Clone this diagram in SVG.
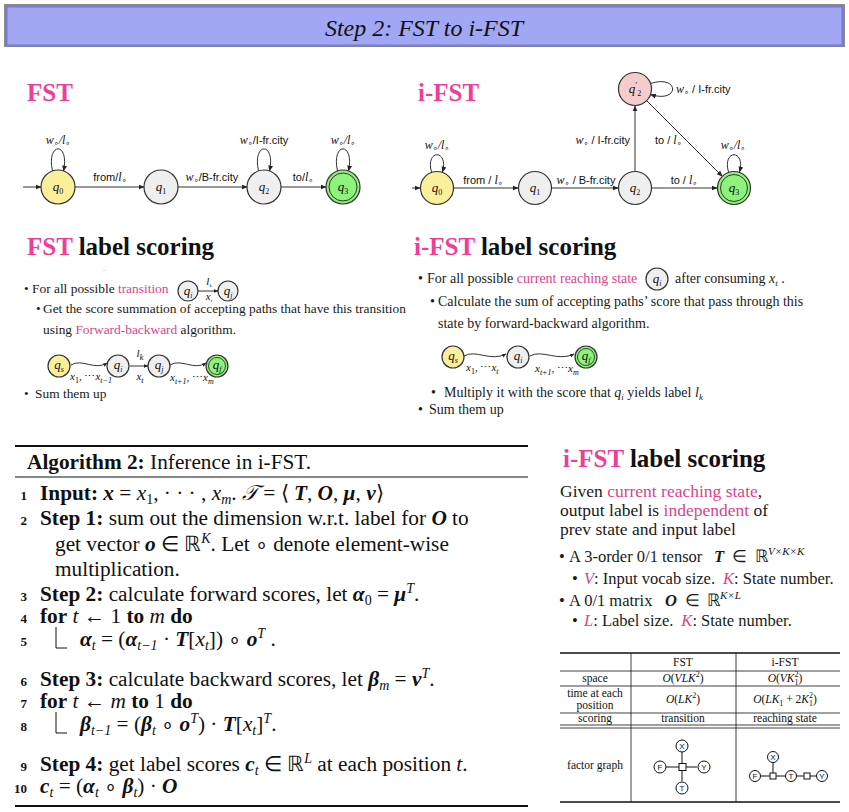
<svg xmlns="http://www.w3.org/2000/svg" width="849" height="812" viewBox="0 0 849 812">
<defs>
<marker id="ah" viewBox="0 0 10 10" refX="9" refY="5" markerWidth="6" markerHeight="6" markerUnits="userSpaceOnUse" orient="auto"><path d="M0,1 L10,5 L0,9 Z" fill="#222"/></marker>
<marker id="ahs" viewBox="0 0 10 10" refX="9" refY="5" markerWidth="4.5" markerHeight="4.5" markerUnits="userSpaceOnUse" orient="auto"><path d="M0,1 L10,5 L0,9 Z" fill="#222"/></marker>
</defs>
<style>
.lbl{font-family:"Liberation Sans",Arial,sans-serif;font-size:11px;fill:#111}
.mi{font-family:"Liberation Serif",serif;font-style:italic;font-size:12px}
.o{font-family:"DejaVu Sans",sans-serif;font-size:8px;baseline-shift:-2px}
.node{stroke:#333;stroke-width:1.2}
.yel{fill:#faf09b}
.gry{fill:#efefef}
.grn{fill:#8ef27c}
.pnk{fill:#f5cccc}
.edge{fill:none;stroke:#333;stroke-width:1;marker-end:url(#ah)}
.edges{fill:none;stroke:#333;stroke-width:1;marker-end:url(#ahs)}
.ql{font-family:"Liberation Serif",serif;font-style:italic;font-size:13px;fill:#111;text-anchor:middle}
.qs{font-size:8px;baseline-shift:-3px;font-style:normal}
.qsi{font-size:8px;baseline-shift:-3px}
.h1{font-family:"Liberation Serif",serif;font-weight:bold;font-size:25px;fill:#ec3f9a}
.h2{font-family:"Liberation Serif",serif;font-weight:bold;font-size:25px;fill:#111}
.hp{fill:#ec3f9a}
.body{font-family:"Liberation Serif",serif;font-size:13.4px;fill:#1a1a1a}
.body2{font-family:"Liberation Serif",serif;font-size:14px;fill:#1a1a1a}
.pk{fill:#d8468a}
.it{font-style:italic}
.sb{font-size:9px;baseline-shift:-3px}
.rt{font-family:"Liberation Serif",serif;font-size:16.5px;fill:#1a1a1a}
.rg{font-family:"Liberation Serif",serif;font-size:17.5px;fill:#1a1a1a}
.sup{font-size:11px;baseline-shift:7px;font-style:italic}
.alg{font-family:"Liberation Serif",serif;font-size:21.3px;fill:#111}
.b{font-weight:bold}
.bi{font-weight:bold;font-style:italic}
.s{font-size:14px;baseline-shift:-4px}
.si{font-size:14px;baseline-shift:-4px;font-style:italic}
.sp{font-size:14px;baseline-shift:8px;font-style:italic}
.num{font-family:"Liberation Serif",serif;font-weight:bold;font-size:13px;fill:#111;text-anchor:end}
.tb{font-family:"Liberation Serif",serif;font-size:11.5px;fill:#111;text-anchor:middle}
.ts{font-size:8px;baseline-shift:-3px}
.tp{font-size:8px;baseline-shift:5px}
.fc{fill:#fff;stroke:#111;stroke-width:1}
.fl{font-family:"Liberation Sans",Arial,sans-serif;font-size:8px;fill:#111;text-anchor:middle}
.cm{font-family:"Liberation Serif",serif;font-style:italic;font-size:11px;fill:#111}
</style>
<rect x="0" y="0" width="849" height="812" fill="#fff"/>
<!-- title bar -->
<rect x="4" y="4" width="841" height="43" fill="#8e8a8a"/>
<rect x="6.5" y="6.5" width="836" height="39" fill="#a1a7f2" stroke="#757bd0" stroke-width="2"/>
<text x="424" y="36" text-anchor="middle" font-family="Liberation Serif, serif" font-style="italic" font-size="24" fill="#111">Step 2: FST to i-FST</text>

<text class="h1" x="27" y="101">FST</text>
<text class="h1" x="418" y="101">i-FST</text>

<g id="connectors">
<path class="edge" d="M23,187 H41"/>
<path class="edge" d="M75,187 H144"/>
<path class="edge" d="M178,187 H247"/>
<path class="edge" d="M281,187 H326"/>
<path class="edge" d="M52.5,171 C46,141.5 70,141.5 63.5,171"/>
<path class="edge" d="M258.5,171 C252,141.5 276,141.5 269.5,171"/>
<path class="edge" d="M337.5,171 C331,141.5 355,141.5 348.5,171"/>
<path class="edge" d="M412,188 H420"/>
<path class="edge" d="M454,188 H518"/>
<path class="edge" d="M552,188 H618"/>
<path class="edge" d="M652,188 H717"/>
<path class="edge" d="M635,171 V106"/>
<path class="edge" d="M646.7,100.7 L722.3,176.3"/>
<path class="edge" d="M431.5,172 C425,149 449,149 442.5,172"/>
<path class="edge" d="M728.5,172 C722,149 746,149 739.5,172"/>
<path class="edge" d="M650.5,83.5 C680,74 680,104 650.5,94.5"/>
<path class="edges" d="M198,291 H218"/>
<path class="edges" d="M71,365 C82,358 95,371 107,363"/>
<path class="edges" d="M130,366 H148"/>
<path class="edges" d="M170,365 C181,358 194,371 206,363"/>
<path class="edges" d="M464,356 C476,349 490,362 506,354"/>
<path class="edges" d="M530,356 C542,349 558,362 574,354"/>
</g>

<g id="fst-labels">
<text class="lbl" x="58" y="144" text-anchor="middle"><tspan class="mi">w</tspan><tspan class="o">∘</tspan><tspan class="mi">/l</tspan><tspan class="o">∘</tspan></text>
<text class="lbl" x="110" y="181" text-anchor="middle">from/<tspan class="mi">l</tspan><tspan class="o">∘</tspan></text>
<text class="lbl" x="212" y="181" text-anchor="middle"><tspan class="mi">w</tspan><tspan class="o">∘</tspan>/B-fr.city</text>
<text class="lbl" x="264" y="144" text-anchor="middle"><tspan class="mi">w</tspan><tspan class="o">∘</tspan>/I-fr.city</text>
<text class="lbl" x="343" y="144" text-anchor="middle"><tspan class="mi">w</tspan><tspan class="o">∘</tspan><tspan class="mi">/l</tspan><tspan class="o">∘</tspan></text>
<text class="lbl" x="303" y="181" text-anchor="middle">to/<tspan class="mi">l</tspan><tspan class="o">∘</tspan></text>
</g>
<g id="fst-q0"><circle class="node yel" cx="58" cy="187" r="17"/><text class="ql" x="58" y="191">q<tspan class="qs">0</tspan></text></g>
<g id="fst-q1"><circle class="node gry" cx="161" cy="187" r="17"/><text class="ql" x="161" y="191">q<tspan class="qs">1</tspan></text></g>
<g id="fst-q2"><circle class="node gry" cx="264" cy="187" r="17"/><text class="ql" x="264" y="191">q<tspan class="qs">2</tspan></text></g>
<g id="fst-q3"><circle class="node grn" cx="343" cy="187" r="17"/><circle cx="343" cy="187" r="14" fill="none" stroke="#333" stroke-width="1"/><text class="ql" x="343" y="191">q<tspan class="qs">3</tspan></text></g>

<g id="ifst-labels">
<text class="lbl" x="437" y="149" text-anchor="middle"><tspan class="mi">w</tspan><tspan class="o">∘</tspan><tspan class="mi">/l</tspan><tspan class="o">∘</tspan></text>
<text class="lbl" x="733" y="149" text-anchor="middle"><tspan class="mi">w</tspan><tspan class="o">∘</tspan><tspan class="mi">/l</tspan><tspan class="o">∘</tspan></text>
<text class="lbl" x="630" y="144" text-anchor="end"><tspan class="mi">w</tspan><tspan class="o">∘</tspan> / I-fr.city</text>
<text class="lbl" x="655" y="144">to / <tspan class="mi">l</tspan><tspan class="o">∘</tspan></text>
<text class="lbl" x="676" y="93"><tspan class="mi">w</tspan><tspan class="o">∘</tspan> / I-fr.city</text>
<text class="lbl" x="483" y="184" text-anchor="middle">from / <tspan class="mi">l</tspan><tspan class="o">∘</tspan></text>
<text class="lbl" x="586" y="184" text-anchor="middle"><tspan class="mi">w</tspan><tspan class="o">∘</tspan> / B-fr.city</text>
<text class="lbl" x="684" y="184" text-anchor="middle">to / <tspan class="mi">l</tspan><tspan class="o">∘</tspan></text>
</g>
<g id="ifst-q0"><circle class="node yel" cx="437" cy="188" r="16.5"/><text class="ql" x="437" y="192">q<tspan class="qs">0</tspan></text></g>
<g id="ifst-q1"><circle class="node gry" cx="535" cy="188" r="16.5"/><text class="ql" x="535" y="192">q<tspan class="qs">1</tspan></text></g>
<g id="ifst-q2"><circle class="node gry" cx="635" cy="188" r="16.5"/><text class="ql" x="635" y="192">q<tspan class="qs">2</tspan></text></g>
<g id="ifst-q2p"><circle class="node pnk" cx="635" cy="89" r="16.5"/><text class="ql" x="635" y="93">q<tspan font-size="9" font-style="normal" dy="-5">′</tspan><tspan font-size="8" font-style="normal" dy="8">2</tspan></text></g>
<g id="ifst-q3"><circle class="node grn" cx="734" cy="188" r="16.5"/><circle cx="734" cy="188" r="13.5" fill="none" stroke="#333" stroke-width="1"/><text class="ql" x="734" y="192">q<tspan class="qs">3</tspan></text></g>

<!-- FST label scoring -->
<text class="h2" x="27" y="255"><tspan class="hp">FST</tspan> label scoring</text>
<text x="103" y="272" font-family="Liberation Sans, sans-serif" font-size="5" fill="#666">··</text>
<text class="body" x="24" y="293">•</text>
<text class="body" x="32" y="293">For all possible <tspan class="pk">transition</tspan></text>
<g id="tr-qi"><circle class="node gry" cx="188" cy="291" r="10"/><text class="ql" x="188" y="295" font-size="11">q<tspan class="qsi" font-size="7">i</tspan></text></g>
<g id="tr-qj"><circle class="node gry" cx="228" cy="291" r="10"/><text class="ql" x="228" y="295" font-size="11">q<tspan class="qsi" font-size="7">j</tspan></text></g>
<text class="cm" x="209" y="285" font-size="7" fill="#555" text-anchor="middle">l<tspan font-size="5" baseline-shift="-1.5">k</tspan></text>
<text class="cm" x="209" y="300" font-size="6.5" fill="#555" text-anchor="middle">x<tspan font-size="5" baseline-shift="-1.5">t</tspan></text>
<text class="body" x="36" y="313">•</text>
<text class="body" x="43" y="313">Get the score summation of accepting paths that have this transition</text>
<text class="body" x="43" y="334">using <tspan class="pk">Forward-backward</tspan> algorithm.</text>
<g id="ch1-qs"><circle class="node yel" cx="59" cy="366" r="11"/><text class="ql" x="59" y="369" font-size="12">q<tspan class="qsi">s</tspan></text></g>
<g id="ch1-qi"><circle class="node gry" cx="118" cy="366" r="11"/><text class="ql" x="118" y="369" font-size="12">q<tspan class="qsi">i</tspan></text></g>
<g id="ch1-qj"><circle class="node gry" cx="159" cy="366" r="11"/><text class="ql" x="159" y="369" font-size="12">q<tspan class="qsi">j</tspan></text></g>
<g id="ch1-qf"><circle class="node grn" cx="217" cy="366" r="11"/><circle cx="217" cy="366" r="8.5" fill="none" stroke="#333" stroke-width="0.9"/><text class="ql" x="217" y="369" font-size="12">q<tspan class="qsi">f</tspan></text></g>
<text class="cm" x="140" y="357" font-size="13" text-anchor="middle">l<tspan font-size="9" baseline-shift="-3">k</tspan></text>
<text class="cm" x="140" y="380" text-anchor="middle">x<tspan font-size="8" baseline-shift="-3">t</tspan></text>
<text class="cm" x="70" y="380">x<tspan font-size="8" baseline-shift="-3" font-style="normal">1</tspan><tspan font-style="normal">, ⋯</tspan>x<tspan font-size="8" baseline-shift="-3">t−1</tspan></text>
<text class="cm" x="170" y="381">x<tspan font-size="8" baseline-shift="-3">t+1</tspan><tspan font-style="normal">, ⋯</tspan>x<tspan font-size="8" baseline-shift="-3">m</tspan></text>
<text class="body" x="24" y="398">•</text>
<text class="body" x="35" y="398">Sum them up</text>

<!-- i-FST label scoring -->
<text class="h2" x="414" y="255"><tspan class="hp">i-FST</tspan> label scoring</text>
<text class="body2" x="418" y="283">•</text>
<text class="body2" x="427" y="283">For all possible <tspan class="pk">current reaching state</tspan></text>
<g id="cr-qi"><circle class="node gry" cx="657" cy="279" r="11"/><text class="ql" x="657" y="283" font-size="12">q<tspan class="qsi">i</tspan></text></g>
<text class="body2" x="675" y="283">after consuming <tspan class="it">x</tspan><tspan class="sb it">t</tspan> .</text>
<text class="body2" x="430" y="306">•</text>
<text class="body2" x="438" y="306">Calculate the sum of accepting paths’ score that pass through this</text>
<text class="body2" x="438" y="328">state by forward-backward algorithm.</text>
<g id="ch2-qs"><circle class="node yel" cx="453" cy="357" r="11"/><text class="ql" x="453" y="360" font-size="12">q<tspan class="qsi">s</tspan></text></g>
<g id="ch2-qi"><circle class="node gry" cx="518" cy="357" r="11"/><text class="ql" x="518" y="360" font-size="12">q<tspan class="qsi">i</tspan></text></g>
<g id="ch2-qf"><circle class="node grn" cx="586" cy="357" r="11"/><circle cx="586" cy="357" r="8.5" fill="none" stroke="#333" stroke-width="0.9"/><text class="ql" x="586" y="360" font-size="12">q<tspan class="qsi">f</tspan></text></g>
<text class="cm" x="466" y="371">x<tspan font-size="8" baseline-shift="-3" font-style="normal">1</tspan><tspan font-style="normal">, ⋯</tspan>x<tspan font-size="8" baseline-shift="-3">t</tspan></text>
<text class="cm" x="535" y="372">x<tspan font-size="8" baseline-shift="-3">t+1</tspan><tspan font-style="normal">, ⋯</tspan>x<tspan font-size="8" baseline-shift="-3">m</tspan></text>
<text class="body2" x="431" y="397">•</text>
<text class="body2" x="444" y="397">Multiply it with the score that <tspan class="it">q</tspan><tspan class="sb it">i</tspan> yields label <tspan class="it">l</tspan><tspan class="sb it">k</tspan></text>
<text class="body2" x="418" y="414">•</text>
<text class="body2" x="429" y="414">Sum them up</text>

<!-- Algorithm -->
<line x1="15" y1="446" x2="528" y2="446" stroke="#111" stroke-width="2"/>
<text class="alg" x="27" y="469"><tspan class="b">Algorithm 2:</tspan> Inference in i-FST.</text>
<line x1="15" y1="477" x2="528" y2="477" stroke="#111" stroke-width="1.2"/>
<text class="num" x="27" y="500">1</text>
<text class="alg" x="40" y="500"><tspan class="b">Input:</tspan> <tspan class="bi">x</tspan> = <tspan class="it">x</tspan><tspan class="s">1</tspan>, · · · , <tspan class="it">x</tspan><tspan class="si">m</tspan>. <tspan class="it">𝒯</tspan> = ⟨ <tspan class="bi">T</tspan>, <tspan class="bi">O</tspan>, <tspan class="bi">μ</tspan>, <tspan class="bi">ν</tspan>⟩</text>
<text class="num" x="27" y="525">2</text>
<text class="alg" x="40" y="525"><tspan class="b">Step 1:</tspan> sum out the dimension w.r.t. label for <tspan class="bi">O</tspan> to</text>
<text class="alg" x="55" y="551">get vector <tspan class="bi">o</tspan> ∈ ℝ<tspan class="sp">K</tspan>. Let ∘ denote element-wise</text>
<text class="alg" x="55" y="576">multiplication.</text>
<text class="num" x="27" y="601">3</text>
<text class="alg" x="40" y="601"><tspan class="b">Step 2:</tspan> calculate forward scores, let <tspan class="bi">α</tspan><tspan class="s">0</tspan> = <tspan class="bi">μ</tspan><tspan class="sp">T</tspan>.</text>
<text class="num" x="27" y="623">4</text>
<text class="alg" x="40" y="623"><tspan class="b">for</tspan> <tspan class="it">t</tspan> ← 1 <tspan class="b">to</tspan> <tspan class="it">m</tspan> <tspan class="b">do</tspan></text>
<text class="num" x="27" y="646">5</text>
<path d="M56,627 V648 H67" fill="none" stroke="#111" stroke-width="1"/>
<text class="alg" x="80" y="646"><tspan class="bi">α</tspan><tspan class="si">t</tspan> = (<tspan class="bi">α</tspan><tspan class="si">t−1</tspan> · <tspan class="bi">T</tspan>[<tspan class="it">x</tspan><tspan class="si">t</tspan>]) ∘ <tspan class="bi">o</tspan><tspan class="sp">T</tspan> .</text>
<text class="num" x="27" y="686">6</text>
<text class="alg" x="40" y="686"><tspan class="b">Step 3:</tspan> calculate backward scores, let <tspan class="bi">β</tspan><tspan class="si">m</tspan> = <tspan class="bi">ν</tspan><tspan class="sp">T</tspan>.</text>
<text class="num" x="27" y="708">7</text>
<text class="alg" x="40" y="708"><tspan class="b">for</tspan> <tspan class="it">t</tspan> ← <tspan class="it">m</tspan> <tspan class="b">to</tspan> 1 <tspan class="b">do</tspan></text>
<text class="num" x="27" y="731">8</text>
<path d="M56,712 V733 H67" fill="none" stroke="#111" stroke-width="1"/>
<text class="alg" x="80" y="731"><tspan class="bi">β</tspan><tspan class="si">t−1</tspan> = (<tspan class="bi">β</tspan><tspan class="si">t</tspan> ∘ <tspan class="bi">o</tspan><tspan class="sp">T</tspan>) · <tspan class="bi">T</tspan>[<tspan class="it">x</tspan><tspan class="si">t</tspan>]<tspan class="sp">T</tspan>.</text>
<text class="num" x="27" y="771">9</text>
<text class="alg" x="40" y="771"><tspan class="b">Step 4:</tspan> get label scores <tspan class="bi">c</tspan><tspan class="si">t</tspan> ∈ ℝ<tspan class="sp">L</tspan> at each position <tspan class="it">t</tspan>.</text>
<text class="num" x="27" y="793">10</text>
<text class="alg" x="40" y="793"><tspan class="bi">c</tspan><tspan class="si">t</tspan> = (<tspan class="bi">α</tspan><tspan class="si">t</tspan> ∘ <tspan class="bi">β</tspan><tspan class="si">t</tspan>) · <tspan class="bi">O</tspan></text>
<line x1="15" y1="806" x2="528" y2="806" stroke="#111" stroke-width="2"/>

<!-- right side -->
<text class="h2" x="563" y="467"><tspan class="hp">i-FST</tspan> label scoring</text>
<text class="rg" x="560" y="497">Given <tspan class="pk">current reaching state</tspan>,</text>
<text class="rg" x="560" y="516">output label is <tspan class="pk">independent</tspan> of</text>
<text class="rg" x="560" y="535">prev state and input label</text>
<text class="rt" x="559" y="562">•</text>
<text class="rt" x="569" y="562">A 3-order 0/1 tensor</text>
<text class="rt" x="714" y="562"><tspan class="bi">T</tspan><tspan dx="8">∈</tspan><tspan dx="8">ℝ</tspan><tspan class="sup">V×K×K</tspan></text>
<text class="rt" x="572" y="584">•</text>
<text class="rt" x="584" y="584"><tspan class="pk it">V</tspan>: Input vocab size.<tspan class="pk it" dx="8">K</tspan>: State number.</text>
<text class="rt" x="559" y="606">•</text>
<text class="rt" x="569" y="606">A 0/1 matrix</text>
<text class="rt" x="665" y="606"><tspan class="bi">O</tspan><tspan dx="8">∈</tspan><tspan dx="7">ℝ</tspan><tspan class="sup">K×L</tspan></text>
<text class="rt" x="572" y="626">•</text>
<text class="rt" x="584" y="626"><tspan class="pk it">L</tspan>: Label size.<tspan class="pk it" dx="8">K</tspan>: State number.</text>

<!-- table -->
<g id="table">
<line x1="560" y1="653" x2="840" y2="653" stroke="#111" stroke-width="1.5"/>
<line x1="631" y1="653" x2="631" y2="802" stroke="#111" stroke-width="0.8"/>
<line x1="736" y1="653" x2="736" y2="802" stroke="#111" stroke-width="0.8"/>
<line x1="560" y1="671" x2="840" y2="671" stroke="#111" stroke-width="0.8"/>
<line x1="560" y1="686" x2="840" y2="686" stroke="#111" stroke-width="0.8"/>
<line x1="560" y1="713" x2="840" y2="713" stroke="#111" stroke-width="0.8"/>
<line x1="560" y1="725" x2="840" y2="725" stroke="#111" stroke-width="0.8"/>
<line x1="560" y1="728" x2="840" y2="728" stroke="#111" stroke-width="0.8"/>
<line x1="560" y1="802" x2="840" y2="802" stroke="#111" stroke-width="1.5"/>
<text class="tb" x="683" y="666">FST</text>
<text class="tb" x="785" y="666">i-FST</text>
<text class="tb" x="595" y="682">space</text>
<text class="tb" x="683" y="682"><tspan class="it">O</tspan>(<tspan class="it">VLK</tspan><tspan class="tp">2</tspan>)</text>
<text class="tb" x="785" y="682"><tspan class="it">O</tspan>(<tspan class="it">VK</tspan><tspan class="ts">1</tspan><tspan class="tp" dx="-4">2</tspan>)</text>
<text class="tb" x="595" y="697">time at each</text>
<text class="tb" x="595" y="709">position</text>
<text class="tb" x="683" y="703"><tspan class="it">O</tspan>(<tspan class="it">LK</tspan><tspan class="tp">2</tspan>)</text>
<text class="tb" x="785" y="703"><tspan class="it">O</tspan>(<tspan class="it">LK</tspan><tspan class="ts">1</tspan> + 2<tspan class="it">K</tspan><tspan class="ts">1</tspan><tspan class="tp" dx="-4">2</tspan>)</text>
<text class="tb" x="595" y="722">scoring</text>
<text class="tb" x="683" y="722">transition</text>
<text class="tb" x="785" y="722">reaching state</text>
<text class="tb" x="595" y="769">factor graph</text>
</g>
<g id="fg-fst">
<path d="M682,752 V781 M666,767 H697" stroke="#111" stroke-width="1"/>
<rect x="679" y="763.5" width="7" height="7" class="fc"/>
<circle class="fc" cx="682" cy="746" r="6"/><text class="fl" x="682" y="749">X</text>
<circle class="fc" cx="660" cy="767" r="6"/><text class="fl" x="660" y="770">F</text>
<circle class="fc" cx="704" cy="767" r="6"/><text class="fl" x="704" y="770">Y</text>
<circle class="fc" cx="682" cy="788" r="6"/><text class="fl" x="682" y="791">T</text>
</g>
<g id="fg-ifst">
<path d="M773,762 V776 M760,776 H817" stroke="#111" stroke-width="1"/>
<rect x="770" y="773" width="6" height="6" class="fc"/>
<rect x="804" y="773" width="6" height="6" class="fc"/>
<circle class="fc" cx="773" cy="757" r="5.5"/><text class="fl" x="773" y="760" font-size="7.5">X</text>
<circle class="fc" cx="755" cy="776" r="5.5"/><text class="fl" x="755" y="779" font-size="7.5">F</text>
<circle class="fc" cx="791" cy="776" r="5.5"/><text class="fl" x="791" y="779" font-size="7.5">T</text>
<circle class="fc" cx="822" cy="776" r="5.5"/><text class="fl" x="822" y="779" font-size="7.5">Y</text>
</g>
</svg>
